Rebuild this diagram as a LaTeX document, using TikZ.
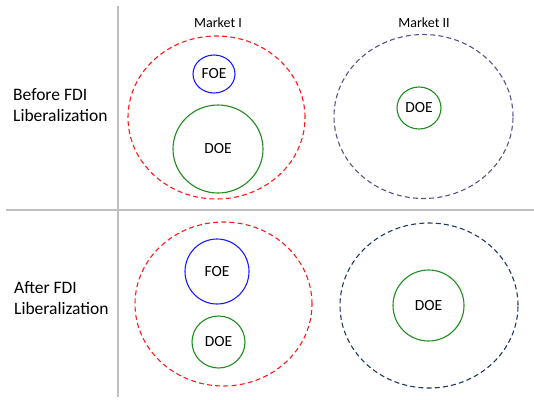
\documentclass[tikz,border=0pt]{standalone}
\usepackage{fontspec}
\usetikzlibrary{shapes.geometric}
\setmainfont{Carlito}
\definecolor{gridgray}{HTML}{BFBFBF}
\definecolor{mkred}{HTML}{FF1A1A}
\definecolor{mkviolet}{HTML}{5E4E8E}
\definecolor{mknavy}{HTML}{1F3864}
\definecolor{foeblue}{HTML}{1A1AFF}
\definecolor{doegreen}{HTML}{1E8C1E}
\begin{document}
\begin{tikzpicture}[x=1pt,y=-1pt,
  market/.style={dashed, dash pattern=on 5pt off 3.2pt, line width=1.1pt,
    shape=ellipse, inner sep=0pt, outer sep=0pt},
  firm/.style={line width=1.1pt, shape=ellipse, inner sep=0pt, outer sep=0pt,
    text=black, font=\fontsize{15.5}{19}\selectfont},
  rowlbl/.style={font=\fontsize{17.5}{21}\selectfont, align=left, anchor=west, inner sep=0pt},
  colhead/.style={font=\fontsize{14}{15}\selectfont, inner sep=0pt}]
  \useasboundingbox (0,0) rectangle (534,399);

  % grid lines
  \coordinate (vtop) at (118,6);
  \coordinate (vbot) at (118,397);
  \coordinate (hleft) at (6,210);
  \coordinate (hright) at (534,210);
  \draw[gridgray, line width=1.2pt] (vtop) -- (vbot);
  \draw[gridgray, line width=1.2pt] (hleft) -- (hright);

  % column and row headings
  \node[colhead] (m1) at (218,23) {Market I};
  \node[colhead] (m2) at (424,23) {Market II};
  \node[rowlbl] (before) at (13,105.5) {Before FDI\\Liberalization};
  \node[rowlbl] (after) at (14,298) {After FDI\\Liberalization};

  % before liberalization
  \node[market, draw=mkred, minimum width=177pt, minimum height=163pt] (mktA) at (216.5,117.5) {};
  \node[market, draw=mkviolet, minimum width=179pt, minimum height=164pt] (mktB) at (423.5,116.5) {};
  \node[firm, draw=foeblue, minimum width=42pt, minimum height=38pt] (foeA) at (214,74) {FOE};
  \node[firm, draw=doegreen, minimum width=90pt, minimum height=88pt] (doeA) at (218,149) {DOE};
  \node[firm, draw=doegreen, minimum width=44pt, minimum height=42pt] (doeB) at (419,108) {DOE};

  % after liberalization
  \node[market, draw=mkred, minimum width=177pt, minimum height=164pt] (mktC) at (223.5,304) {};
  \node[market, draw=mknavy, minimum width=178pt, minimum height=165pt] (mktD) at (429,305.5) {};
  \node[firm, draw=foeblue, minimum width=64pt, minimum height=65pt] (foeC) at (217,271.5) {FOE};
  \node[firm, draw=doegreen, minimum width=53pt, minimum height=52pt] (doeC) at (218.5,342) {DOE};
  \node[firm, draw=doegreen, minimum width=71pt, minimum height=71pt] (doeD) at (428.5,305.5) {DOE};
\end{tikzpicture}
\end{document}
